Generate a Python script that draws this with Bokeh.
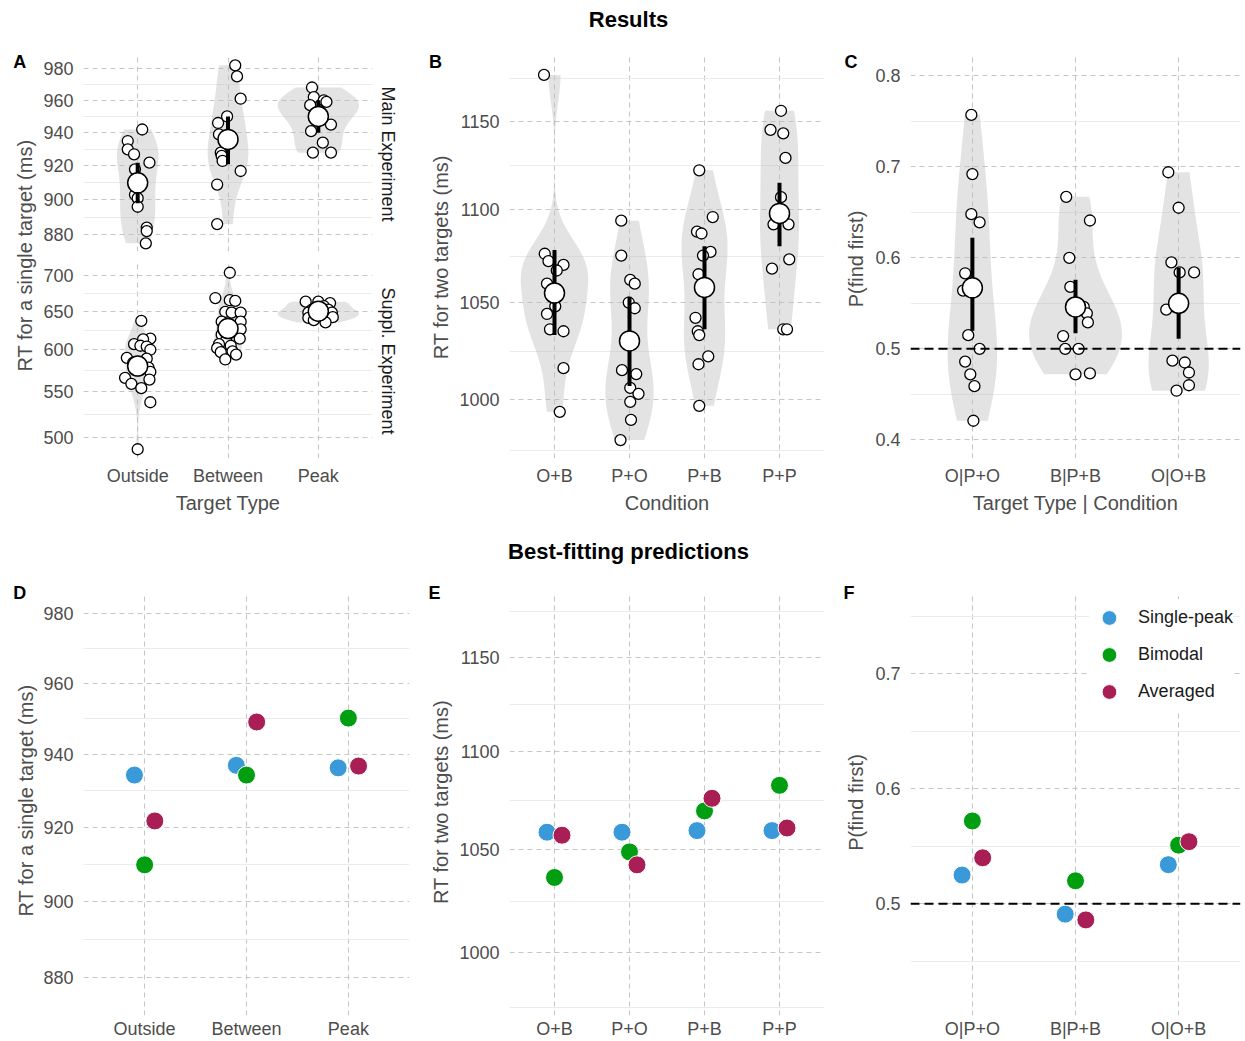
import numpy as np
from bokeh.plotting import figure
from bokeh.layouts import row, column
from bokeh.models import (Range1d, FixedTicker, PrintfTickFormatter, Title,
                          Legend, LegendItem, Span)
from bokeh.core.properties import value
from bokeh.embed import file_html
from bokeh.resources import INLINE

FONT = "Liberation Sans"
TXT = "#4D4D4D"

# ---------------- data: panel A (single target RT) ----------------
types_A = ["Outside", "Between", "Peak"]
main_outside = [942, 935, 930, 927, 922, 918, 903, 901, 896, 884, 882, 875]
main_outside_jit = [0.05, -0.11, -0.11, -0.04, 0.13, -0.03, -0.03, 0.0, 0.0, 0.10, 0.10, 0.09]
main_between = [982, 975, 961, 950, 946, 939, 928, 926, 923, 917, 909, 886]
main_between_jit = [0.08, 0.10, 0.14, -0.01, -0.11, -0.10, -0.08, -0.07, -0.06, 0.14, -0.12, -0.12]
main_peak = [968, 962, 960, 959, 957, 953, 951, 945, 941, 934, 928, 928]
main_peak_jit = [-0.07, -0.05, 0.06, 0.09, -0.09, 0.02, -0.01, 0.14, -0.08, 0.05, -0.06, 0.14]
main_mean = [910, 936, 950]
main_lo = [898, 921, 940]
main_hi = [922, 950, 960]

suppl_outside = [637, 614, 613, 607, 605, 604, 600, 590, 589, 584, 578, 573, 566, 564, 559, 554, 538, 488]
suppl_outside_jit = [0.04, 0.14, 0.06, -0.04, 0.03, 0.10, 0.14, -0.12, 0.10, -0.05, 0.12, 0.14,
                     -0.14, 0.13, -0.07, 0.04, 0.14, 0.0]
suppl_between = [704, 668, 665, 664, 649, 648, 648, 636, 636, 626, 620, 619, 614, 612, 607, 605,
                 602, 598, 597, 594, 588]
suppl_between_jit = [0.02, -0.14, 0.02, 0.08, -0.03, 0.04, 0.14, -0.07, 0.14, 0.14, 0.0, -0.07,
                     0.13, -0.02, -0.10, 0.03, -0.12, 0.05, -0.08, 0.09, -0.03]
suppl_peak = [663, 663, 661, 657, 652, 652, 648, 648, 645, 642, 641, 638, 635]
suppl_peak_jit = [-0.14, 0.0, 0.13, 0.06, -0.07, 0.11, 0.15, -0.11, 0.03, 0.16, -0.11, -0.05, 0.08]
suppl_mean = [580, 627, 650]
suppl_lo = [572, 619, 646]
suppl_hi = [588, 635, 654]

# ---------------- data: panel B (two targets RT) ----------------
conds_B = ["O+B", "P+O", "P+B", "P+P"]
rt_OB = [1177, 1076, 1072, 1070, 1067, 1060, 1048, 1044, 1036, 1035, 1016, 994]
rt_OB_jit = [-0.14, -0.13, -0.08, 0.12, 0.03, -0.10, 0.01, -0.10, -0.06, 0.12, 0.12, 0.07]
rt_PO = [1094, 1075, 1062, 1060, 1050, 1047, 1015, 1013, 1006, 1003, 999, 990, 980]
rt_PO_jit = [-0.11, -0.11, 0.01, 0.07, -0.01, 0.07, -0.10, 0.09, 0.01, 0.12, 0.01, 0.02, -0.12]
rt_PB = [1122, 1096, 1088, 1087, 1077, 1075, 1065, 1042, 1035, 1033, 1022, 1018, 997]
rt_PB_jit = [-0.07, 0.11, -0.10, -0.04, 0.08, -0.02, -0.08, -0.12, -0.09, -0.07, 0.05, -0.08, -0.07]
rt_PP = [1156, 1145, 1143, 1129, 1107, 1092, 1092, 1073, 1068, 1036, 1036]
rt_PP_jit = [0.02, -0.12, 0.05, 0.08, 0.02, -0.08, 0.12, 0.13, -0.10, 0.05, 0.10]
two_mean = [1055, 1030, 1058, 1098]
two_lo = [1033, 1007, 1036, 1080]
two_hi = [1078, 1053, 1080, 1115]

# ---------------- data: panel C (P find first) ----------------
conds_C = ["O|P+O", "B|P+B", "O|O+B"]
pf_OPO = [0.757, 0.692, 0.648, 0.639, 0.583, 0.564, 0.515, 0.500, 0.486, 0.472, 0.459, 0.421]
pf_OPO_jit = [-0.01, 0.0, -0.01, 0.07, -0.07, -0.09, -0.04, 0.07, -0.07, -0.02, 0.02, 0.01]
pf_BPB = [0.667, 0.641, 0.600, 0.568, 0.546, 0.539, 0.529, 0.514, 0.500, 0.500, 0.472, 0.473]
pf_BPB_jit = [-0.09, 0.14, -0.06, -0.05, 0.08, 0.11, 0.12, -0.12, -0.10, 0.03, 0.0, 0.14]
pf_OOB = [0.694, 0.655, 0.595, 0.584, 0.584, 0.543, 0.487, 0.485, 0.474, 0.460, 0.454]
pf_OOB_jit = [-0.10, 0.0, -0.07, 0.01, 0.15, -0.12, -0.06, 0.06, 0.10, 0.10, -0.02]
pf_mean = [0.567, 0.546, 0.550]
pf_lo = [0.520, 0.517, 0.511]
pf_hi = [0.622, 0.576, 0.589]

# ---------------- data: model predictions ----------------
models = ["Single-peak", "Bimodal", "Averaged"]
model_colors = ["#3A9AD9", "#009E10", "#A91F55"]
model_dodge = [-0.1, 0.0, 0.1]
predD_single = [934.3, 937.0, 936.3]
predD_bimodal = [909.8, 934.3, 950.2]
predD_averaged = [921.7, 949.1, 936.8]
predE_single = [1058.7, 1058.7, 1059.5, 1059.5]
predE_bimodal = [1036.3, 1048.9, 1069.4, 1082.4]
predE_averaged = [1057.2, 1042.5, 1075.8, 1060.8]
predF_single = [0.525, 0.491, 0.534]
predF_bimodal = [0.572, 0.520, 0.551]
predF_averaged = [0.540, 0.486, 0.554]


# ---------------- helpers ----------------
def geo_minor(majors, step):
    ext = [majors[0] - step] + list(majors) + [majors[-1] + step]
    return [float(np.sqrt(a * b)) for a, b in zip(ext[:-1], ext[1:])]


def lin_minor(majors, step):
    ext = [majors[0] - step] + list(majors) + [majors[-1] + step]
    return [round((a + b) / 2, 4) for a, b in zip(ext[:-1], ext[1:])]


def make_fig(w, h, xr, yr, log, mb):
    p = figure(width=w, height=h, x_range=Range1d(*xr), y_range=Range1d(*yr),
               y_axis_type="log" if log else "linear", output_backend="svg",
               toolbar_location=None, min_border_left=mb[0], min_border_right=mb[1],
               min_border_top=mb[2], min_border_bottom=mb[3])
    p.outline_line_color = None
    p.background_fill_color = "white"
    p.border_fill_color = "white"
    return p


def style(p, cats, yticks, yminor, fmt, xlabel=None, xstand=7):
    n = len(cats)
    p.xaxis.ticker = FixedTicker(ticks=list(range(1, n + 1)), minor_ticks=[])
    p.xaxis.major_label_overrides = {i + 1: c for i, c in enumerate(cats)}
    p.yaxis.ticker = FixedTicker(ticks=yticks, minor_ticks=yminor)
    p.yaxis.formatter = PrintfTickFormatter(format=fmt)
    for ax in p.axis:
        ax.axis_line_color = None
        ax.major_tick_line_color = None
        ax.minor_tick_line_color = None
        ax.major_tick_out = 0
        ax.major_tick_in = 0
        ax.minor_tick_out = 0
        ax.minor_tick_in = 0
        ax.major_label_text_font = FONT
        ax.major_label_text_font_size = "18px"
        ax.major_label_text_color = TXT
        ax.axis_label_text_font = FONT
        ax.axis_label_text_font_size = "20px"
        ax.axis_label_text_font_style = "normal"
        ax.axis_label_text_color = TXT
    p.yaxis.major_label_standoff = 10
    p.xaxis.major_label_standoff = xstand
    p.xaxis.axis_label_standoff = 3
    if xlabel:
        p.xaxis.axis_label = xlabel
    p.xgrid.grid_line_color = "#C6C6C6"
    p.xgrid.grid_line_dash = "5 4"
    p.xgrid.grid_line_width = 1.1
    p.ygrid.grid_line_color = "#C6C6C6"
    p.ygrid.grid_line_dash = "5 4"
    p.ygrid.grid_line_width = 1.1
    p.ygrid.minor_grid_line_color = "#EBEBEB"
    p.ygrid.minor_grid_line_width = 1.1


def kde(vals, log):
    v = np.asarray(vals, float)
    if log:
        v = np.log10(v)
    n = v.size
    sd = v.std(ddof=1)
    q75, q25 = np.percentile(v, [75, 25])
    hh = min(sd, (q75 - q25) / 1.34)
    if hh <= 0:
        hh = sd
    bw = 0.9 * hh * n ** -0.2
    g = np.linspace(v.min(), v.max(), 300)
    d = np.exp(-0.5 * ((g[:, None] - v[None, :]) / bw) ** 2).sum(1) / (n * bw * np.sqrt(2 * np.pi))
    return (10 ** g if log else g), d


def draw_violins(p, groups, log):
    res = [kde(g, log) for g in groups]
    m = max(d.max() for _, d in res)
    for i, (ys, d) in enumerate(res, start=1):
        w = 0.45 * d / m
        xs = np.concatenate([i - w, (i + w)[::-1]])
        yy = np.concatenate([ys, ys[::-1]])
        p.patch(xs, yy, fill_color="#BDBDBD", fill_alpha=0.42, line_color=None)


def draw_raw(p, groups, jits, means, los, his):
    for i, (g, j) in enumerate(zip(groups, jits), start=1):
        p.scatter(np.asarray(j) + i, g, size=11, fill_color="white",
                  line_color="black", line_width=1.3)
    idx = list(range(1, len(means) + 1))
    p.segment(idx, los, idx, his, line_width=4, line_color="black")
    p.scatter(idx, means, size=20, fill_color="white", line_color="black", line_width=1.5)


def blank(w, h):
    p = figure(width=w, height=h, x_range=Range1d(0, w), y_range=Range1d(0, h),
               output_backend="svg", toolbar_location=None, min_border=0,
               x_axis_location=None, y_axis_location=None)
    p.grid.visible = False
    p.outline_line_color = None
    p.border_fill_color = "white"
    p.background_fill_color = "white"
    return p


def side(w, h, ylabel, lx, ly, tag, tx, ty):
    """narrow strip carrying the panel tag and the rotated y-axis title"""
    p = blank(w, h)
    p.text(x=[lx], y=[ly], text=[ylabel], angle=np.pi / 2, text_font=value(FONT),
           text_font_size="20px", text_align="center", text_baseline="middle", text_color=TXT)
    p.text(x=[tx], y=[ty], text=[tag], text_font=value(FONT), text_font_size="18px",
           text_font_style="bold", text_align="center", text_baseline="middle",
           text_color="black")
    # wrapped in its own column so that its frame is not aligned with neighbouring plots
    return column(p)


# ---------------- headers ----------------
W = 1245
head1 = blank(W, 48)
head1.text(x=[628], y=[29], text=["Results"], text_font=value(FONT), text_font_size="22px",
           text_font_style="bold", text_align="center", text_baseline="middle", text_color="black")
head2 = blank(W, 45)
head2.text(x=[628], y=[24], text=["Best-fitting predictions"], text_font=value(FONT),
           text_font_size="22px", text_font_style="bold", text_align="center",
           text_baseline="middle", text_color="black")

TOP_H = 482
BOT_H = 466

# ---------------- panel A ----------------
labA = side(38, TOP_H, "RT for a single target (ms)", 24, 275, "A", 19.3, 469)

A_main_ticks = [880, 900, 920, 940, 960, 980]
A_sup_ticks = [500, 550, 600, 650, 700]

pA1 = make_fig(377, 209, (0.4, 3.6), (870.4, 987.65), True, (45, 43, 8, 6))
style(pA1, types_A, A_main_ticks, geo_minor(A_main_ticks, 20), "%d")
pA1.xaxis.visible = False
g_main = [main_outside, main_between, main_peak]
draw_violins(pA1, g_main, True)
draw_raw(pA1, g_main, [main_outside_jit, main_between_jit, main_peak_jit], main_mean, main_lo, main_hi)
pA1.add_layout(Title(text="Main Experiment", align="center", text_font=FONT, text_font_size="18px",
                     text_font_style="normal", text_color="#1A1A1A", standoff=11), "right")

pA2 = make_fig(377, 273, (0.4, 3.6), (478.7, 717.66), True, (45, 43, 6, 72))
style(pA2, types_A, A_sup_ticks, geo_minor(A_sup_ticks, 50), "%d", xlabel="Target Type")
g_sup = [suppl_outside, suppl_between, suppl_peak]
draw_violins(pA2, g_sup, True)
draw_raw(pA2, g_sup, [suppl_outside_jit, suppl_between_jit, suppl_peak_jit], suppl_mean, suppl_lo, suppl_hi)
pA2.add_layout(Title(text="Suppl. Experiment", align="center", text_font=FONT, text_font_size="18px",
                     text_font_style="normal", text_color="#1A1A1A", standoff=11), "right")

colA = row(labA, column(pA1, pA2))

# ---------------- panel B ----------------
labB = side(40, TOP_H, "RT for two targets (ms)", 25, 273.3, "B", 20, 469)
B_ticks = [1000, 1050, 1100, 1150]
pB = make_fig(380, TOP_H, (0.4, 4.6), (971.0, 1187.9), True, (54, 11, 8, 72))
style(pB, conds_B, B_ticks, geo_minor(B_ticks, 50), "%d", xlabel="Condition")
g_B = [rt_OB, rt_PO, rt_PB, rt_PP]
draw_violins(pB, g_B, True)
draw_raw(pB, g_B, [rt_OB_jit, rt_PO_jit, rt_PB_jit, rt_PP_jit], two_mean, two_lo, two_hi)

# ---------------- panel C ----------------
labC = side(35, TOP_H, "P(find first)", 20, 271.5, "C", 15.5, 469)
C_ticks = [0.4, 0.5, 0.6, 0.7, 0.8]
pC = make_fig(375, TOP_H, (0.4, 3.6), (0.3795, 0.8212), False, (40, 5, 8, 72))
style(pC, conds_C, C_ticks, lin_minor(C_ticks, 0.1), "%.1f", xlabel="Target Type | Condition")
g_C = [pf_OPO, pf_BPB, pf_OOB]
draw_violins(pC, g_C, False)
pC.add_layout(Span(location=0.5, dimension="width", line_color="black", line_width=2,
                   line_dash="9 5"))
draw_raw(pC, g_C, [pf_OPO_jit, pf_BPB_jit, pf_OOB_jit], pf_mean, pf_lo, pf_hi)


# ---------------- prediction panels ----------------
def draw_preds(p, series):
    rs = []
    for vals, col, dx in zip(series, model_colors, model_dodge):
        xs = [i + 1 + dx for i in range(len(vals))]
        r = p.scatter(xs, vals, size=18, fill_color=col, line_color="white", line_width=1)
        rs.append(r)
    return rs


labD = side(38, BOT_H, "RT for a single target (ms)", 25, 241, "D", 19.3, 448.5)
pD = make_fig(377, BOT_H, (0.4, 3.6), (870.1, 986.2), True, (45, 6, 17, 25))
style(pD, types_A, A_main_ticks, geo_minor(A_main_ticks, 20), "%d", xstand=3)
draw_preds(pD, [predD_single, predD_bimodal, predD_averaged])

labE = side(40, BOT_H, "RT for two targets (ms)", 25, 239.5, "E", 19, 448.5)
pE = make_fig(380, BOT_H, (0.4, 4.6), (970.9, 1185.6), True, (54, 11, 17, 25))
style(pE, conds_B, B_ticks, geo_minor(B_ticks, 50), "%d", xstand=3)
draw_preds(pE, [predE_single, predE_bimodal, predE_averaged])

labF = side(35, BOT_H, "P(find first)", 20, 239, "F", 13.5, 449)
pF = make_fig(375, BOT_H, (0.4, 3.6), (0.4029, 0.7706), False, (40, 5, 17, 25))
style(pF, conds_C, C_ticks, lin_minor(C_ticks, 0.1), "%.1f", xstand=3)
pF.add_layout(Span(location=0.5, dimension="width", line_color="black", line_width=2,
                   line_dash="9 5"))
rsF = draw_preds(pF, [predF_single, predF_bimodal, predF_averaged])
leg = Legend(items=[LegendItem(label=m, renderers=[r]) for m, r in zip(models, rsF)],
             location="top_right", margin=7, padding=6, spacing=0, glyph_width=40,
             glyph_height=37, label_height=37, label_standoff=9,
             label_text_font=FONT, label_text_font_size="18px", label_text_color="#1A1A1A",
             background_fill_color="white", background_fill_alpha=1.0, border_line_color=None)
pF.add_layout(leg)

top_row = row(colA, labB, pB, labC, pC)
bot_row = row(labD, pD, labE, pE, labF, pF)
layout = column(head1, top_row, head2, bot_row)

open("out.html", "w").write(file_html(layout, INLINE))
